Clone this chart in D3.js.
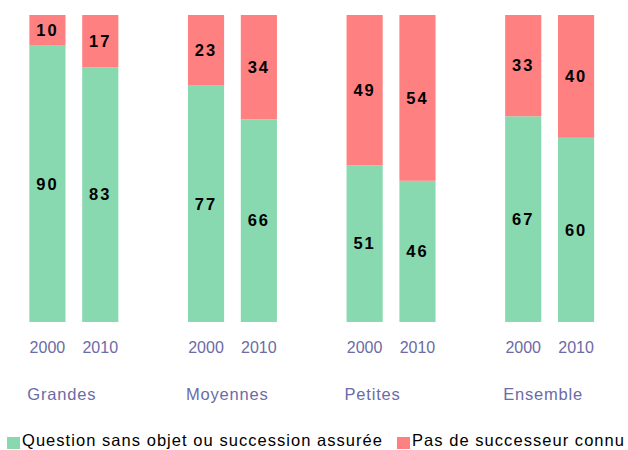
<!DOCTYPE html>
<html>
<head>
<meta charset="utf-8">
<script src="https://cdn.jsdelivr.net/npm/d3@7"></script>
<style>
  body { margin: 0; background: #fff; }
  text { font-family: "Liberation Sans", Arial, sans-serif; }
</style>
</head>
<body>
<script>
const groups = ['Grandes', 'Moyennes', 'Petites', 'Ensemble']
const years = ['2000', '2010']
// one value per group x year, in order 2000, 2010
const assuree = [[90, 83], [77, 66], [51, 46], [67, 60]]
const sansSucc = [[10, 17], [23, 34], [49, 54], [33, 40]]
const seriesNames = ['Question sans objet ou succession assurée', 'Pas de successeur connu']
const colors = ['#88d9b0', '#ff8080']

const width = 628
const height = 450

const svg = d3.select('body').append('svg')
      .attr('width', width)
      .attr('height', height)

const x0 = d3.scaleBand()
      .domain(groups)
      .range([21, 21 + 4 * 158.6])
      .padding(0)
const x1 = d3.scaleBand()
      .domain(years)
      .range([0, 105.7])
      .paddingInner(0.316)
      .paddingOuter(0.158)
const y = d3.scaleLinear()
      .domain([0, 100])
      .range([322, 15])

const rows = []
groups.forEach(function (g, i) {
  years.forEach(function (yr, j) {
    rows.push({group: g, year: yr, a: assuree[i][j], b: sansSucc[i][j]})
  })
})

const bar = svg.selectAll('.bar')
      .data(rows)
      .enter().append('g')
      .attr('class', 'bar')
      .attr('transform', function (d) { return 'translate(' + (x0(d.group) + x1(d.year)) + ',0)' })

bar.append('rect')
  .attr('x', 0)
  .attr('width', x1.bandwidth())
  .attr('y', function (d) { return y(d.a) })
  .attr('height', function (d) { return y(0) - y(d.a) })
  .attr('fill', colors[0])
bar.append('rect')
  .attr('x', 0)
  .attr('width', x1.bandwidth())
  .attr('y', function (d) { return y(d.a + d.b) })
  .attr('height', function (d) { return y(d.a) - y(d.a + d.b) })
  .attr('fill', colors[1])

// value labels
bar.append('text')
  .attr('x', x1.bandwidth() / 2)
  .attr('y', function (d) { return (y(0) + y(d.a)) / 2 })
  .attr('dy', '0.35em')
  .text(function (d) { return d.a })
bar.append('text')
  .attr('x', x1.bandwidth() / 2)
  .attr('y', function (d) { return (y(d.a) + y(d.a + d.b)) / 2 })
  .attr('dy', '0.35em')
  .text(function (d) { return d.b })
bar.selectAll('text')
  .attr('text-anchor', 'middle')
  .attr('font-size', 16.5)
  .attr('font-weight', 'bold')
  .attr('letter-spacing', 2)
  .attr('fill', '#000')

// year ticks
bar.append('text')
  .attr('x', x1.bandwidth() / 2)
  .attr('y', 353)
  .attr('text-anchor', 'middle')
  .attr('font-size', 16)
  .attr('fill', '#6b6ba6')
  .text(function (d) { return d.year })

// group labels
svg.selectAll('.glabel')
  .data(groups)
  .enter().append('text')
  .attr('class', 'glabel')
  .attr('x', function (d) { return x0(d) + x1('2000') - 2 })
  .attr('y', 400)
  .attr('font-size', 16.5)
  .attr('letter-spacing', 0.8)
  .attr('fill', '#6b6ba6')
  .text(function (d) { return d })

// legend
const legendX = [7, 397]
const legendW = [360, 212]
const lg = svg.selectAll('.legend')
      .data(seriesNames)
      .enter().append('g')
      .attr('class', 'legend')
      .attr('transform', function (d, i) { return 'translate(' + legendX[i] + ',0)' })
lg.append('rect')
  .attr('x', 0)
  .attr('y', 437)
  .attr('width', 13)
  .attr('height', 12)
  .attr('fill', function (d, i) { return colors[i] })
lg.append('text')
  .attr('x', 15)
  .attr('y', 446)
  .attr('font-size', 16.5)
  .attr('fill', '#000')
  .attr('textLength', function (d, i) { return legendW[i] })
  .attr('lengthAdjust', 'spacing')
  .text(function (d) { return d })
</script>
</body>
</html>
